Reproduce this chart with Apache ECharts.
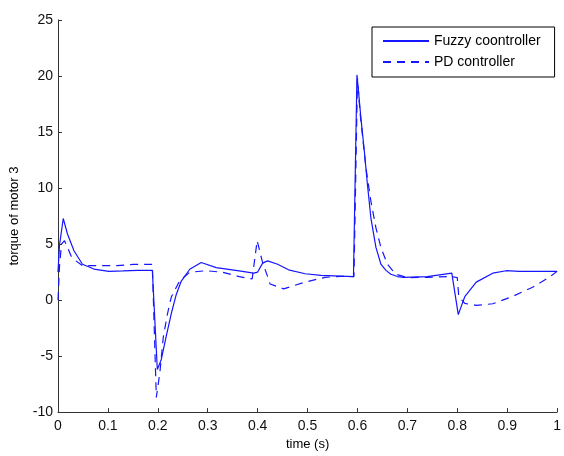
<!DOCTYPE html>
<html>
<head>
<meta charset="utf-8">
<script src="https://cdn.jsdelivr.net/npm/echarts@6/dist/echarts.min.js"></script>
<style>html,body{margin:0;padding:0;background:#fff;}#c{width:564px;height:456px;}</style>
</head>
<body>
<div id="c"></div>
<script>
var fuzzyT = [0, 0.003, 0.0105, 0.019, 0.032, 0.049, 0.072, 0.102, 0.13, 0.16, 0.189, 0.199, 0.207, 0.217, 0.227, 0.237, 0.247, 0.264, 0.287, 0.317, 0.363, 0.392, 0.4, 0.41, 0.42, 0.44, 0.462, 0.495, 0.527, 0.592, 0.599, 0.603, 0.607, 0.614, 0.62, 0.627, 0.637, 0.647, 0.657, 0.667, 0.68, 0.693, 0.74, 0.789, 0.802, 0.815, 0.838, 0.871, 0.898, 0.924, 1.0];
var fuzzyV = [2.5, 4.9, 7.28, 5.9, 4.4, 3.2, 2.77, 2.56, 2.6, 2.65, 2.65, -6.2, -5.3, -3.2, -1.2, 0.5, 1.7, 2.75, 3.35, 2.9, 2.6, 2.4, 2.5, 3.3, 3.5, 3.2, 2.7, 2.35, 2.2, 2.1, 20.1, 18.2, 16.2, 13.2, 10.3, 7.3, 4.7, 3.2, 2.65, 2.3, 2.1, 2.03, 2.1, 2.4, -1.3, 0.3, 1.6, 2.4, 2.62, 2.56, 2.56];
var pdT = [0, 0.003, 0.007, 0.013, 0.02, 0.026, 0.036, 0.049, 0.085, 0.118, 0.151, 0.189, 0.197, 0.204, 0.211, 0.219, 0.227, 0.244, 0.264, 0.297, 0.33, 0.363, 0.389, 0.392, 0.399, 0.409, 0.425, 0.452, 0.495, 0.535, 0.567, 0.593, 0.6, 0.605, 0.61, 0.617, 0.627, 0.637, 0.647, 0.66, 0.677, 0.7, 0.74, 0.789, 0.8, 0.803, 0.815, 0.838, 0.871, 0.911, 0.951, 0.984, 1.0];
var pdV = [0, 3.0, 5.0, 5.3, 4.6, 3.95, 3.5, 3.07, 3.07, 3.07, 3.18, 3.18, -8.7, -6.5, -3.3, -1.3, 0.27, 1.74, 2.48, 2.62, 2.48, 2.1, 1.88, 1.9, 5.3, 3.5, 1.44, 1.0, 1.6, 2.03, 2.12, 2.1, 19.8, 16.8, 14.7, 11.8, 8.8, 6.45, 4.7, 3.2, 2.3, 2.0, 2.03, 2.1, 2.0, 0.3, -0.3, -0.47, -0.33, 0.33, 1.15, 2.03, 2.56];
var xTicks = ['0', '0.1', '0.2', '0.3', '0.4', '0.5', '0.6', '0.7', '0.8', '0.9', '1'];
var seriesNames = ['Fuzzy coontroller', 'PD controller'];

function pairs(t, v) { return t.map(function (x, i) { return [x, v[i]]; }); }

var FONT = 'Liberation Sans, Arial, sans-serif';
var chart = echarts.init(document.getElementById('c'), null, { renderer: 'canvas' });
chart.setOption({
  animation: false,
  backgroundColor: '#fff',
  grid: { left: 57, right: 2.5, top: 20, bottom: 39.5 },
  legend: {
    left: 372, top: 27, orient: 'vertical',
    data: seriesNames,
    itemWidth: 46, itemHeight: 14, itemGap: 7, itemTextGap: 5,
    padding: [7, 14, 8, 10],
    borderColor: '#000', borderWidth: 1, backgroundColor: '#fff',
    itemStyle: { opacity: 0 },
    textStyle: { fontFamily: FONT, fontSize: 14, color: '#000' }
  },
  xAxis: {
    type: 'value', min: 0, max: 1, interval: 0.1,
    name: 'time (s)', nameLocation: 'middle', nameGap: 25,
    nameTextStyle: { fontFamily: FONT, fontSize: 13, color: '#000' },
    axisLine: { show: true, onZero: false, lineStyle: { color: '#333', width: 1 } },
    axisTick: { show: true, inside: true, length: 4, lineStyle: { color: '#333' } },
    axisLabel: { margin: 7, fontFamily: FONT, fontSize: 14, color: '#111',
      formatter: function (v) { return xTicks[Math.round(v * 10)]; } },
    splitLine: { show: false }
  },
  yAxis: {
    type: 'value', min: -10, max: 25, interval: 5,
    name: 'torque of motor 3', nameLocation: 'middle', nameGap: 37, nameRotate: 90,
    nameTextStyle: { fontFamily: FONT, fontSize: 13, color: '#000' },
    axisLine: { show: true, onZero: false, lineStyle: { color: '#333', width: 1 } },
    axisTick: { show: true, inside: true, length: 4, lineStyle: { color: '#333' } },
    axisLabel: { margin: 5, fontFamily: FONT, fontSize: 14, color: '#111' },
    splitLine: { show: false }
  },
  series: [
    { name: seriesNames[0], type: 'line', data: pairs(fuzzyT, fuzzyV), showSymbol: false, symbol: 'none',
      lineStyle: { color: '#1515ff', width: 1.2, type: 'solid' }, itemStyle: { color: '#1515ff' } },
    { name: seriesNames[1], type: 'line', data: pairs(pdT, pdV), showSymbol: false, symbol: 'none',
      lineStyle: { color: '#1515ff', width: 1.2, type: [8, 6] }, itemStyle: { color: '#1515ff' } }
  ]
});
</script>
</body>
</html>
